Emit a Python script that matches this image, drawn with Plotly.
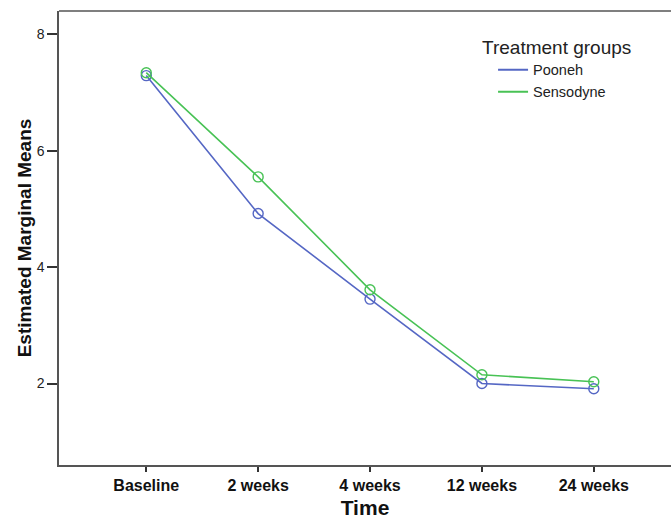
import plotly.graph_objects as go

categories = ["Baseline", "2 weeks", "4 weeks", "12 weeks", "24 weeks"]
pooneh = [7.29, 4.92, 3.45, 2.00, 1.91]
sensodyne = [7.34, 5.55, 3.61, 2.15, 2.03]
y_ticks = [2, 4, 6, 8]

BLUE = "#5567c4"
GREEN = "#48c255"
FONT = "Liberation Sans, Arial, sans-serif"

fig = go.Figure()
idx = list(range(len(categories)))
for name, vals, col in [("Pooneh", pooneh, BLUE), ("Sensodyne", sensodyne, GREEN)]:
    fig.add_trace(go.Scatter(
        x=idx, y=vals, mode="lines+markers", name=name, showlegend=False,
        line=dict(color=col, width=1.6),
        marker=dict(symbol="circle-open", size=10, color=col, line=dict(width=1.4)),
    ))
    fig.add_trace(go.Scatter(
        x=[None], y=[None], mode="lines", name=name,
        line=dict(color=col, width=2),
    ))

fig.update_layout(
    width=671, height=519,
    margin=dict(l=59, r=0, t=11, b=54),
    paper_bgcolor="white", plot_bgcolor="white",
    font=dict(family=FONT, color="#222"),
    legend=dict(
        title=dict(text="Treatment groups", font=dict(size=19, color="#222")),
        font=dict(size=14.5, color="#222"),
        x=0.688, y=0.96, xanchor="left", yanchor="top",
        bgcolor="rgba(0,0,0,0)", tracegroupgap=0, itemwidth=30,
        indentation=13,
    ),
    xaxis=dict(
        tickmode="array", tickvals=idx, ticktext=categories,
        range=[-0.78, 4.69], automargin=False,
        showgrid=False, zeroline=False,
        showline=True, linecolor="#555", linewidth=1.5,
        ticks="outside", ticklen=5, tickwidth=1.5, tickcolor="#333",
        tickfont=dict(size=16, weight="bold", color="#111"),
        title=dict(text="Time", font=dict(size=21, weight="bold", color="#111"), standoff=17),
    ),
    yaxis=dict(
        tickmode="array", tickvals=y_ticks, ticktext=[str(v) for v in y_ticks],
        range=[0.6, 8.4], automargin=False,
        showgrid=False, zeroline=False,
        showline=True, linecolor="#555", linewidth=1.5,
        ticks="outside", ticklen=10, tickwidth=1.5, tickcolor="#333",
        tickfont=dict(size=14, color="#222"),
        title=dict(text="Estimated Marginal Means", font=dict(size=19, weight="bold", color="#111"), standoff=0),
    ),
)
fig.add_shape(type="line", xref="paper", yref="paper", x0=0, x1=1, y0=1, y1=1,
              line=dict(color="#555", width=1.5))

fig.write_html("out.html", config={"displayModeBar": False},
               post_script="document.body.style.margin='0';")
